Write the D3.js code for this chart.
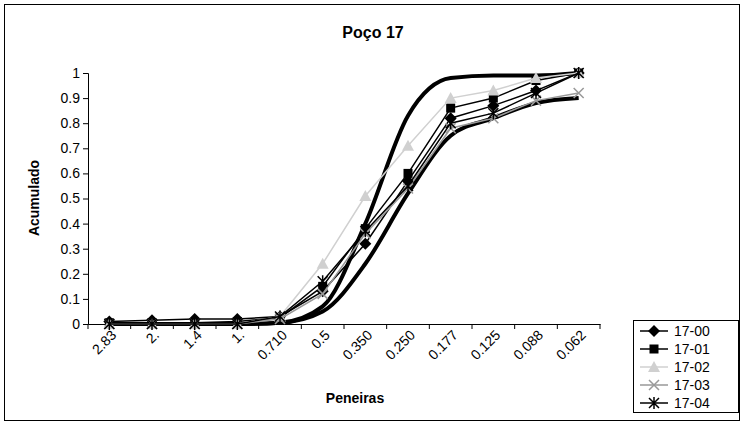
<!DOCTYPE html><html><head><script src="https://d3js.org/d3.v7.min.js"></script>
<style>body{margin:0;background:#fff}svg{font-family:"Liberation Sans",Arial,sans-serif}</style></head><body><svg id="c" width="744" height="422"></svg><script>
const categories=["2.83","2.","1.4","1.","0.710","0.5","0.350","0.250","0.177","0.125","0.088","0.062"];
const s1700=[0.01,0.015,0.02,0.02,0.03,0.13,0.32,0.57,0.82,0.87,0.93,1.0];
const s1701=[0.005,0.005,0.005,0.01,0.025,0.15,0.38,0.60,0.86,0.90,0.97,1.0];
const s1702=[0,0,0,0,0.03,0.24,0.51,0.71,0.90,0.93,0.98,1.0];
const s1703=[0,0,0,0,0.02,0.12,0.36,0.54,0.78,0.82,0.89,0.92];
const s1704=[0,0,0,0,0.03,0.17,0.37,0.55,0.80,0.84,0.92,1.0];
const upper=[0,0,0,0,0.005,0.07,0.40,0.83,0.98,0.99,0.99,1.0];
const lower=[0,0,0,0,0.005,0.05,0.24,0.52,0.75,0.82,0.88,0.90];
const yTicks=[0,0.1,0.2,0.3,0.4,0.5,0.6,0.7,0.8,0.9,1];
const svg=d3.select("#c");
svg.append("rect").attr("x",4.5).attr("y",4.5).attr("width",735).attr("height",416).attr("fill","none").attr("stroke","#000");
const x=d3.scaleBand().domain(categories).range([88,600]);
const y=d3.scaleLinear().domain([0,1]).range([324,73]);
const cx=c=>x(c)+x.bandwidth()/2;
const ya=svg.append("g").attr("transform","translate(88,0)").call(d3.axisLeft(y).tickValues(yTicks).tickSize(5).tickFormat(d=>d));
const xa=svg.append("g").attr("transform","translate(0,324)").call(d3.axisBottom(x).tickSize(0).tickFormat(""));
svg.selectAll(".domain").attr("stroke","#000");
ya.selectAll("text").attr("font-size",14).attr("fill","#000");
xa.selectAll(".bt").data(d3.range(13)).enter().append("line").attr("x1",i=>88+i*x.step()).attr("x2",i=>88+i*x.step()).attr("y1",0).attr("y2",5).attr("stroke","#000");
xa.selectAll(".lbl").data(categories).enter().append("text").attr("font-size",14).attr("fill","#000").attr("text-anchor","end")
 .attr("transform",d=>`translate(${cx(d)+8},12) rotate(-45)`).text(d=>d);
const curve=d3.line().x((d,i)=>cx(categories[i])).y(d=>y(d)).curve(d3.curveMonotoneX);
[upper,lower].forEach(s=>svg.append("path").attr("d",curve(s)).attr("fill","none").attr("stroke","#000").attr("stroke-width",4));
const line=d3.line().x((d,i)=>cx(categories[i])).y(d=>y(d));
const series=[{n:"17-00",v:s1700,c:"#000",m:"diamond"},{n:"17-01",v:s1701,c:"#000",m:"square"},{n:"17-02",v:s1702,c:"#d0d0d0",m:"triangle"},{n:"17-03",v:s1703,c:"#999",m:"x"},{n:"17-04",v:s1704,c:"#000",m:"star"}];
function mark(g,m,c,px,py){
 if(m==="diamond")g.append("path").attr("d",`M${px},${py-6}L${px+6},${py}L${px},${py+6}L${px-6},${py}Z`).attr("fill",c);
 else if(m==="square")g.append("rect").attr("x",px-4.5).attr("y",py-4.5).attr("width",9).attr("height",9).attr("fill",c);
 else if(m==="triangle")g.append("path").attr("d",`M${px},${py-6}L${px+6},${py+5}L${px-6},${py+5}Z`).attr("fill",c);
 else if(m==="x")g.append("path").attr("d",`M${px-5},${py-5}L${px+5},${py+5}M${px-5},${py+5}L${px+5},${py-5}`).attr("stroke",c).attr("stroke-width",1.5);
 else g.append("path").attr("d",`M${px-5},${py-5}L${px+5},${py+5}M${px-5},${py+5}L${px+5},${py-5}M${px},${py-6}L${px},${py+6}`).attr("stroke",c).attr("stroke-width",1.5);
}
series.forEach(s=>{svg.append("path").attr("d",line(s.v)).attr("fill","none").attr("stroke",s.c).attr("stroke-width",1.5);
 const g=svg.append("g");s.v.forEach((v,i)=>mark(g,s.m,s.c,cx(categories[i]),y(v)));});
svg.append("text").attr("x",373).attr("y",38).attr("text-anchor","middle").attr("font-size",16).attr("font-weight","bold").text("Poço 17");
svg.append("text").attr("transform","translate(39,198) rotate(-90)").attr("text-anchor","middle").attr("font-size",14).attr("font-weight","bold").text("Acumulado");
svg.append("text").attr("x",355).attr("y",403).attr("text-anchor","middle").attr("font-size",14).attr("font-weight","bold").text("Peneiras");
const lg=svg.append("g");
lg.append("rect").attr("x",633.5).attr("y",320.5).attr("width",105).attr("height",92).attr("fill","#fff").attr("stroke","#000");
series.forEach((s,i)=>{const yy=331+i*18;lg.append("line").attr("x1",640).attr("x2",668).attr("y1",yy).attr("y2",yy).attr("stroke",s.c).attr("stroke-width",1.5);
 mark(lg,s.m,s.c,654,yy);lg.append("text").attr("x",674).attr("y",yy+5).attr("font-size",14).text(s.n);});
</script></body></html>
